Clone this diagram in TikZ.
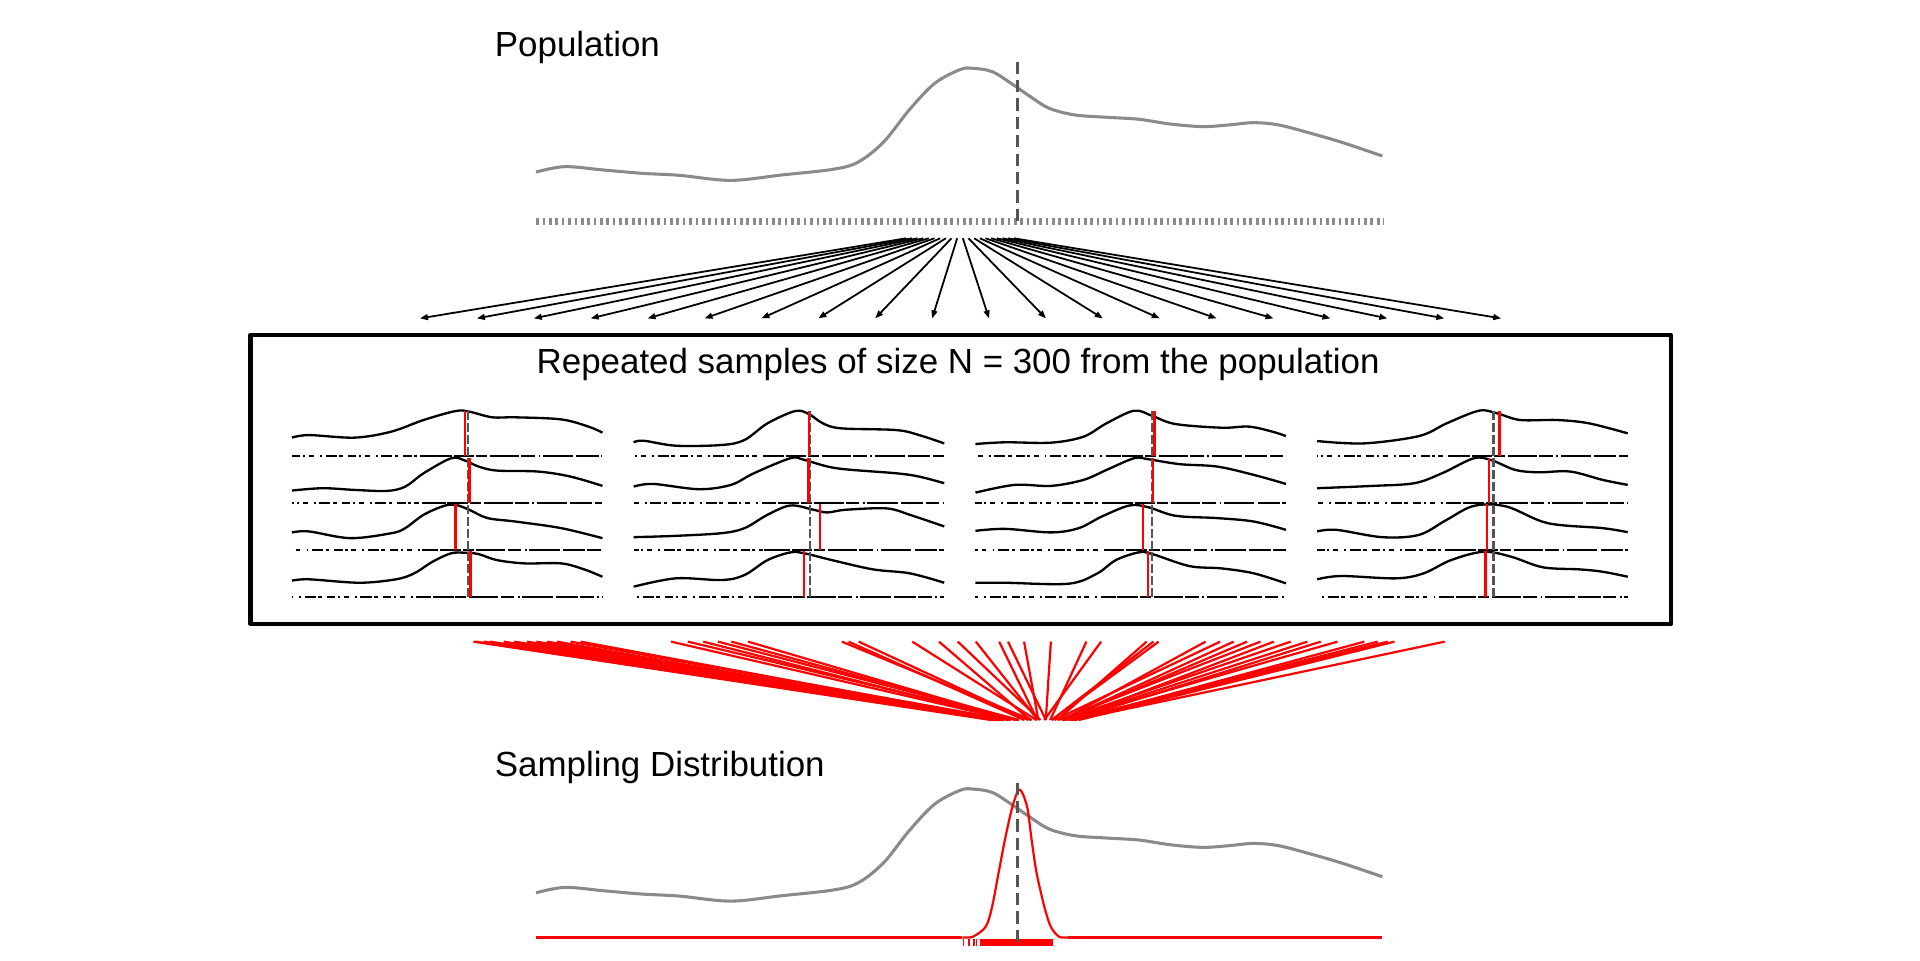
\documentclass[tikz,border=0pt]{standalone}
\usepackage{fontspec}
\setmainfont{Liberation Sans}
\usetikzlibrary{arrows.meta}
\definecolor{popgray}{HTML}{8A8A8A}
\definecolor{meangray}{HTML}{555555}
\newcommand\sampanel[5]{%
  \begin{scope}[shift={(#1,#2)}, x=253.6pt, y=1pt]
    \draw[samplecurve] plot[smooth, tension=0.55] coordinates {#3};
    \draw[rugL, dash phase=#5pt] (0,0) -- (0.42,0);
    \draw[rugM, dash phase=#5pt] (0.42,0) -- (0.66,0);
    \draw[rugR, dash phase=#5pt] (0.66,0) -- (1,0);
    \draw[panelmean] (0.5678,0) -- (0.5678,36.7);
    \draw[redmean] ({0.5678+(#4)/253.6},0) -- ++(0,37);
  \end{scope}}
\begin{document}
\begin{tikzpicture}[x=1pt,y=-1pt, line join=round,
  popcurve/.style={popgray, line width=2.5pt},
  popmean/.style={meangray, line width=1.8pt, dash pattern=on 10pt off 5pt},
  poprug/.style={popgray, line width=5.4pt, dash pattern=on 2.2pt off 3pt},
  fanarrow/.style={black, line width=1.45pt, -{Triangle[length=6.5pt,width=4.8pt]}},
  boxframe/.style={draw=black, line width=3.6pt, minimum width=1160pt, minimum height=236pt, inner sep=0pt},
  txt/.style={font=\fontsize{28.5}{34}\selectfont, inner sep=0pt, anchor=base west},
  samplecurve/.style={black, line width=1.9pt},
  rugL/.style={black, line width=1.5pt, dash pattern=on 7pt off 2pt on 2pt off 3pt on 4pt off 5pt on 1.5pt off 3pt on 9pt off 2pt on 3pt off 4pt},
  rugM/.style={black, line width=1.5pt, dash pattern=on 24pt off 1.5pt on 17pt off 1.5pt on 9pt off 2pt},
  rugR/.style={black, line width=1.5pt, dash pattern=on 18pt off 2pt on 11pt off 3pt on 1.5pt off 2pt on 25pt off 2.5pt},
  panelmean/.style={meangray, line width=1.9pt, dash pattern=on 7pt off 2.8pt},
  redmean/.style={red, line width=2.2pt},
  redlink/.style={red, line width=1.8pt},
  reddens/.style={red, line width=2.2pt},
  redrug/.style={red, line width=5.5pt}
]
\useasboundingbox (0,0) rectangle (1568,784);

% ---------- Population ----------
\node[txt] (poplabel) at (404,46) {Population};
\draw[popcurve] plot[smooth, tension=0.55] coordinates {(437.8,140.5) (461.2,136.1) (492.5,138.8) (523.7,141.5) (555,143.2) (596.7,147.3) (638.3,142.9) (680,138.3) (700.8,132.4) (721.6,116) (742.5,89.8) (763.3,68.1) (784.1,56.8) (794.6,55.8) (810.2,58.5) (825.8,68.1) (841.4,78.9) (857,88.5) (877.9,93.9) (904,95.8) (930,97.4) (956,101.3) (982,103.4) (1002.9,102.1) (1023.7,100.2) (1044.5,102.1) (1070.6,108.9) (1096.6,116.5) (1128.9,127.4)};
\draw[poprug] (438,181) -- (1130,181);
\draw[popmean] (831,50.4) -- (831,181);

% ---------- sampling arrows ----------
\foreach \i in {0,...,19}{
  \coordinate (as\i) at ({740+4.632*\i},194.6);
  \coordinate (ae\i) at ({343+46.47*\i},260);
  \draw[fanarrow] (as\i) -- (ae\i);
}

% ---------- box of samples ----------
\node[boxframe] (box) at (784.5,391.5) {};
\node[txt, anchor=base] (title) at (782.5,304.8) {Repeated samples of size N = 300 from the population};

% column 1
\sampanel{238.4}{372.4}{(0,15.0) (0.055,17.1) (0.202,15.0) (0.32,19.9) (0.424,29.4) (0.527,36.7) (0.571,36.2) (0.645,31.6) (0.719,31.6) (0.867,29.9) (0.955,24.0) (1,19.1)}{-2.6}{0}
\sampanel{238.4}{410.7}{(0,10.1) (0.099,12.0) (0.202,10.6) (0.306,9.8) (0.365,13.3) (0.424,24.2) (0.513,36.5) (0.557,34.6) (0.601,29.7) (0.66,26.4) (0.793,25.6) (0.897,21.5) (1,13.9)}{1.1}{5}
\sampanel{238.4}{449.0}{(0,14.2) (0.055,15.0) (0.188,9.5) (0.321,13.6) (0.365,17.7) (0.424,28.6) (0.49,35.9) (0.527,36.7) (0.571,32.7) (0.63,25.9) (0.719,23.1) (0.867,17.7) (1,9.5)}{-10.5}{11}
\sampanel{238.4}{487.3}{(0,13.1) (0.055,14.2) (0.217,11.4) (0.335,14.2) (0.394,19.1) (0.453,28.6) (0.512,35.4) (0.557,35.9) (0.601,34.8) (0.66,29.9) (0.749,27.2) (0.867,27.2) (0.941,22.3) (1,16.3)}{1.9}{17}
% column 2
\sampanel{517.5}{372.4}{(0,11.2) (0.032,12.5) (0.136,8.4) (0.284,9.0) (0.357,13.1) (0.431,26.7) (0.52,36.7) (0.564,34.3) (0.609,26.7) (0.668,22.6) (0.845,21.2) (0.919,17.1) (1,10.3)}{-0.8}{8}
\sampanel{517.5}{410.7}{(0,13.3) (0.062,15.5) (0.21,11.2) (0.313,14.7) (0.387,24.2) (0.505,36.5) (0.55,35.1) (0.653,28.3) (0.845,24.2) (0.919,21.5) (1,16.1)}{-1.5}{14}
\sampanel{517.5}{449.0}{(0,10.3) (0.136,11.4) (0.284,13.6) (0.357,17.7) (0.431,28.6) (0.505,36.2) (0.579,32.7) (0.623,30.5) (0.683,32.7) (0.815,33.8) (0.889,28.6) (1,19.1)}{8.2}{3}
\sampanel{517.5}{487.3}{(0,8.2) (0.136,15.0) (0.284,13.6) (0.357,17.7) (0.431,29.9) (0.505,36.2) (0.55,35.4) (0.638,29.9) (0.771,22.3) (0.889,19.1) (1,11.4)}{-4.9}{20}
% column 3
\sampanel{796.6}{372.4}{(0,9.8) (0.096,11.2) (0.244,10.9) (0.348,15.8) (0.422,26.7) (0.511,37.0) (0.57,32.7) (0.644,26.1) (0.793,23.1) (0.881,24.0) (0.956,19.9) (1,16.3)}{2.2}{12}
\sampanel{796.6}{410.7}{(0,8.4) (0.126,14.7) (0.244,13.9) (0.348,18.8) (0.422,26.9) (0.511,36.5) (0.556,35.7) (0.659,31.6) (0.778,29.7) (0.896,22.9) (1,15.5)}{1.1}{2}
\sampanel{796.6}{449.0}{(0,15.5) (0.096,17.1) (0.244,14.2) (0.333,17.7) (0.407,27.2) (0.496,36.2) (0.556,34.8) (0.644,27.8) (0.778,25.9) (0.896,23.1) (1,16.3)}{-7.2}{9}
\sampanel{796.6}{487.3}{(0,11.4) (0.096,11.4) (0.3,10.6) (0.393,19.1) (0.452,29.9) (0.526,36.2) (0.57,34.8) (0.689,25.0) (0.793,23.1) (0.896,19.1) (1,10.9)}{-3.0}{16}
% column 4
\sampanel{1075.7}{372.4}{(0,12.2) (0.151,10.3) (0.328,16.3) (0.417,26.7) (0.521,37.0) (0.58,34.8) (0.654,29.4) (0.772,29.4) (0.875,26.7) (1,18.5)}{4.8}{6}
\sampanel{1075.7}{410.7}{(0,12.0) (0.18,13.9) (0.313,16.1) (0.402,24.2) (0.505,36.5) (0.564,34.6) (0.638,26.9) (0.712,25.0) (0.815,25.6) (0.919,18.8) (1,14.7)}{-3.8}{13}
\sampanel{1075.7}{449.0}{(0,15.0) (0.062,16.3) (0.21,10.3) (0.328,12.2) (0.417,24.5) (0.505,35.9) (0.609,35.4) (0.742,21.8) (0.919,17.7) (1,14.4)}{-5.3}{1}
\sampanel{1075.7}{487.3}{(0,14.2) (0.077,16.9) (0.254,15.0) (0.343,19.1) (0.431,29.9) (0.535,36.7) (0.624,32.7) (0.727,24.0) (0.845,22.3) (0.919,20.4) (1,16.3)}{-6.8}{19}

% ---------- red links to sampling distribution ----------
\foreach \s [count=\k] in {386.6,388.5,394.9,400,411.3,420,430.4,438,446.8,455,466,474.2,548,561.7,574.3,586.3,597.2,610.9,687.5,693,701.2,745,766.8,782.2,796.9,816,823.2,836.3,858.2,887.2,899.2,936.4,941.9,946.2,984.5,996.5,1007.5,1018.4,1029.4,1040.3,1054,1067.7,1078.6,1092.3,1114.2,1125.1,1133.3,1138.8,1179.8}{
  \pgfmathsetmacro\e{813+0.085*(\s-386)+4*sin(137*\k)}
  \coordinate (rs\k) at (\s,524);
  \coordinate (re\k) at (\e,588);
  \draw[redlink] (rs\k) -- (re\k);
}

% ---------- Sampling distribution ----------
\node[txt] (samplabel) at (404,633.8) {Sampling Distribution};
\begin{scope}[shift={(0,588.6)}]
\draw[popcurve] plot[smooth, tension=0.55] coordinates {(437.8,140.5) (461.2,136.1) (492.5,138.8) (523.7,141.5) (555,143.2) (596.7,147.3) (638.3,142.9) (680,138.3) (700.8,132.4) (721.6,116) (742.5,89.8) (763.3,68.1) (784.1,56.8) (794.6,55.8) (810.2,58.5) (825.8,68.1) (841.4,78.9) (857,88.5) (877.9,93.9) (904,95.8) (930,97.4) (956,101.3) (982,103.4) (1002.9,102.1) (1023.7,100.2) (1044.5,102.1) (1070.6,108.9) (1096.6,116.5) (1128.9,127.4)};
\end{scope}
\draw[reddens] (438,765.5) -- (786,765.5);
\draw[reddens] (872,765.5) -- (1129,765.5);
\draw[red, line width=1.8pt] plot[smooth, tension=0.5] coordinates {(786,765.5) (794.5,765) (805,756.8) (810.2,740.5) (815.4,713.3) (820.6,686.1) (826.8,658.8) (832.6,644.7) (838.8,658.8) (842.5,686.1) (846.6,713.3) (852.9,740.5) (858.1,756.8) (864.9,765) (872,765.5)};
\draw[redrug] (800,769.6) -- (859.7,769.6);
\foreach \t in {786.7,791.5,795.3,797.6}{
  \draw[red, line width=1.3pt] (\t,767) -- (\t,772.5);
}
\draw[popmean] (831,639.2) -- (831,770.4);
\end{tikzpicture}
\end{document}
